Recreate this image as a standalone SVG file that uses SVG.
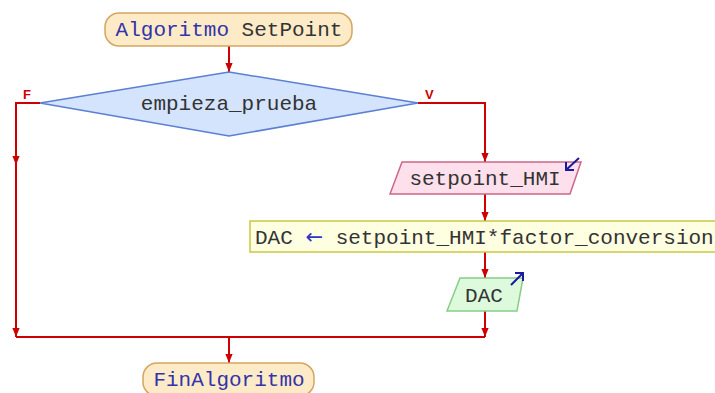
<svg xmlns="http://www.w3.org/2000/svg" width="715" height="393" viewBox="0 0 715 393">
<style>
.ln{fill:none;stroke:#cc0000;stroke-width:2}
.t{font-family:"Liberation Mono","DejaVu Sans Mono",monospace;font-size:21px;fill:#333333}
.kw{fill:#3333aa}
.arr{font-family:"DejaVu Sans",sans-serif;fill:#3333cc}
.lbl{font-family:"Liberation Sans",Arial,sans-serif;font-size:13px;font-weight:bold;fill:#cc0000}
.term{fill:#fdebc8;stroke:#d4a560;stroke-width:1.5}
.dec{fill:#d4e4fc;stroke:#5b7fd4;stroke-width:1.5}
.inp{fill:#fde0ec;stroke:#cc6688;stroke-width:1.5}
.asg{fill:#fefee0;stroke:#c8c844;stroke-width:1.5}
.out{fill:#ddfadd;stroke:#88cc88;stroke-width:1.5}
.ic{fill:none;stroke:#1a1aa0;stroke-width:2}
</style>
<defs>
<marker id="ah" viewBox="0 0 10 8" refX="10" refY="4" markerWidth="9" markerHeight="8" markerUnits="userSpaceOnUse" orient="auto">
<path d="M0,0 L10,4 L0,8 Z" fill="#cc0000"/>
</marker>
</defs>
<g id="connectors">
<path class="ln" d="M229,46 V72" marker-end="url(#ah)"/>
<path class="ln" d="M40,103 H16 V165" marker-end="url(#ah)"/>
<path class="ln" d="M16,160 V337" marker-end="url(#ah)"/>
<path class="ln" d="M418,103 H485 V162" marker-end="url(#ah)"/>
<path class="ln" d="M485,194 V221" marker-end="url(#ah)"/>
<path class="ln" d="M485,252 V278" marker-end="url(#ah)"/>
<path class="ln" d="M485,311 V337" marker-end="url(#ah)"/>
<path class="ln" d="M16,337 H485"/>
<path class="ln" d="M229,337 V363" marker-end="url(#ah)"/>
<text class="lbl" x="23" y="99">F</text>
<text class="lbl" x="425" y="99">V</text>
</g>
<g id="start">
<rect class="term" x="105" y="13" width="247" height="33" rx="14"/>
<text class="t" x="229" y="36" text-anchor="middle"><tspan class="kw">Algoritmo</tspan> SetPoint</text>
</g>
<g id="decision">
<polygon class="dec" points="229,72 418,103 229,136 40,103"/>
<text class="t" x="229" y="110" text-anchor="middle">empieza_prueba</text>
</g>
<g id="input">
<polygon class="inp" points="402,162 581,162 570,194 390,194"/>
<text class="t" x="485" y="185" text-anchor="middle">setpoint_HMI</text>
<path class="ic" d="M579,158 L566,170 M566,162 V170 H574"/>
</g>
<g id="assign">
<rect class="asg" x="250" y="221" width="470" height="31"/>
<text class="t" x="255" y="244">DAC <tspan class="arr">←</tspan> setpoint_HMI*factor_conversion</text>
</g>
<g id="output">
<polygon class="out" points="460,278 523,278 517,311 447,311"/>
<text class="t" x="484" y="302" text-anchor="middle">DAC</text>
<path class="ic" d="M511,285 L523,273 M515,273 H523 V281"/>
</g>
<g id="end">
<rect class="term" x="143" y="363" width="171" height="33" rx="14"/>
<text class="t kw" x="229" y="386" text-anchor="middle">FinAlgoritmo</text>
</g>
</svg>
